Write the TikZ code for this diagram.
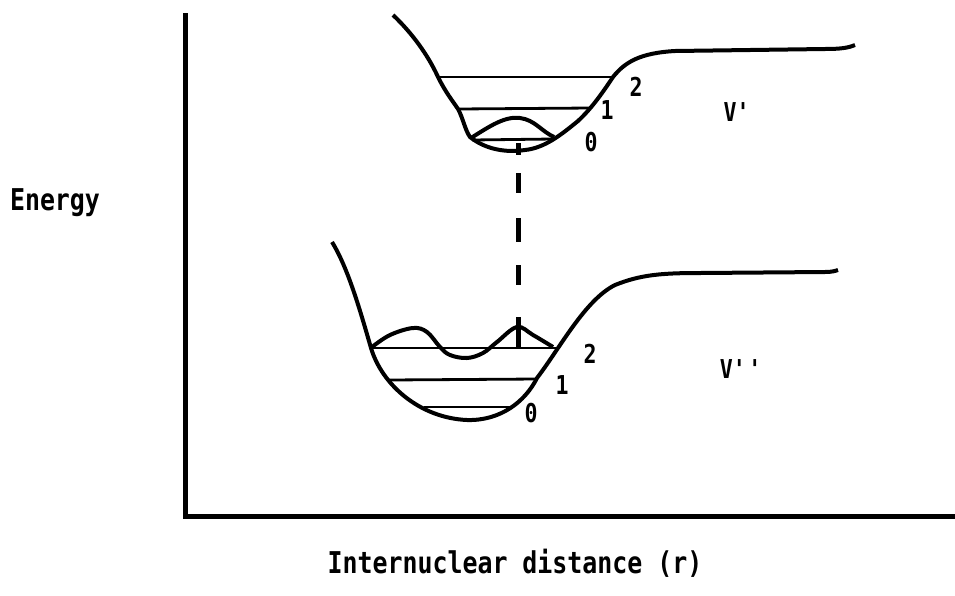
\documentclass[tikz,border=0pt]{standalone}
\usepackage{fontspec}
\newfontfamily\plotfont{DejaVu Sans Mono}[FakeStretch=0.83]
\tikzset{
  potential/.style={line width=4pt, line join=round},
  level/.style={line width=2.8pt},
  wave/.style={line width=4pt, line join=round},
  transition/.style={line width=5pt,
    dash pattern=on 12pt off 18pt on 20pt off 25pt on 24pt off 23pt on 20pt off 32pt on 31pt},
  axislbl/.style={inner sep=0pt, anchor=base, font=\plotfont\bfseries\fontsize{30}{36}\selectfont},
  qnum/.style={inner sep=0pt, font=\plotfont\bfseries\fontsize{26}{30}\selectfont}
}

\begin{document}
\begin{tikzpicture}[x=1pt, y=-1pt]
  \useasboundingbox (0,0) rectangle (955,595);

  % axes
  \coordinate (ytop) at (185,13);
  \coordinate (orig) at (185,516);
  \coordinate (xend) at (955,516);
  \draw[line width=5pt] (ytop) -- (orig) -- (xend);
  \node[axislbl] (energy) at (55,210) {Energy};
  \node[axislbl] (rlabel) at (515,573) {Internuclear distance (r)};

  % upper state V'
  \draw[potential] (393,15) .. controls (412,33) and (428,55) .. (438,77)
    .. controls (446,93) and (452,100) .. (458,109)
    .. controls (463,118) and (465,130) .. (470,137)
    .. controls (485,149) and (505,153) .. (525,150)
    .. controls (545,148) and (562,134) .. (578,121)
    .. controls (592,108) and (603,92) .. (613,77)
    .. controls (625,62) and (640,53) .. (675,51)
    -- (825,49) .. controls (840,49) and (848,48) .. (855,45);
  \coordinate (u2l) at (438,77);  \coordinate (u2r) at (613,77);
  \coordinate (u1l) at (458,109); \coordinate (u1r) at (591,108);
  \coordinate (u0l) at (472,140); \coordinate (u0r) at (553,139);
  \draw[level] (u2l) -- (u2r);
  \draw[level] (u1l) -- (u1r);
  \draw[level] (u0l) -- (u0r);
  \draw[wave] (471,138) .. controls (490,126) and (505,116) .. (520,118)
    .. controls (535,120) and (541,131) .. (554,137);
  \node[qnum] (u2) at (636,87) {2};
  \node[qnum] (u1) at (607,110) {1};
  \node[qnum] (u0) at (591,142) {0};
  \node[qnum] (vup) at (738,112) {V\textquotesingle};

  % lower state V''
  \draw[potential] (332,242) .. controls (348,268) and (360,310) .. (371,348)
    .. controls (382,385) and (420,418) .. (467,420)
    .. controls (500,421) and (525,402) .. (537,378)
    .. controls (560,348) and (585,300) .. (615,285)
    .. controls (640,275) and (660,273) .. (700,273)
    -- (825,272) .. controls (832,272) and (835,271) .. (838,270);
  \coordinate (l2l) at (371,348); \coordinate (l2r) at (558,348);
  \coordinate (l1l) at (389,380); \coordinate (l1r) at (537,379);
  \coordinate (l0l) at (424,407); \coordinate (l0r) at (510,407);
  \draw[level] (l2l) -- (l2r);
  \draw[level] (l1l) -- (l1r);
  \draw[level] (l0l) -- (l0r);
  \draw[wave] plot[smooth, tension=0.6] coordinates {
    (372,347) (390,335) (413,328) (427,332) (440,347) (450,355) (467,358)
    (483,353) (497,342) (517,327) (533,335) (553,347)};
  \node[qnum] (l2) at (590,354) {2};
  \node[qnum] (l1) at (562,385) {1};
  \node[qnum] (l0) at (531,413) {0};
  \node[qnum] (vlow) at (742,369) {V\textquotesingle\textquotesingle};

  % vertical transition
  \coordinate (tup) at (518,143);
  \coordinate (tlow) at (518,348);
  \draw[transition] (tup) -- (tlow);
\end{tikzpicture}
\end{document}
